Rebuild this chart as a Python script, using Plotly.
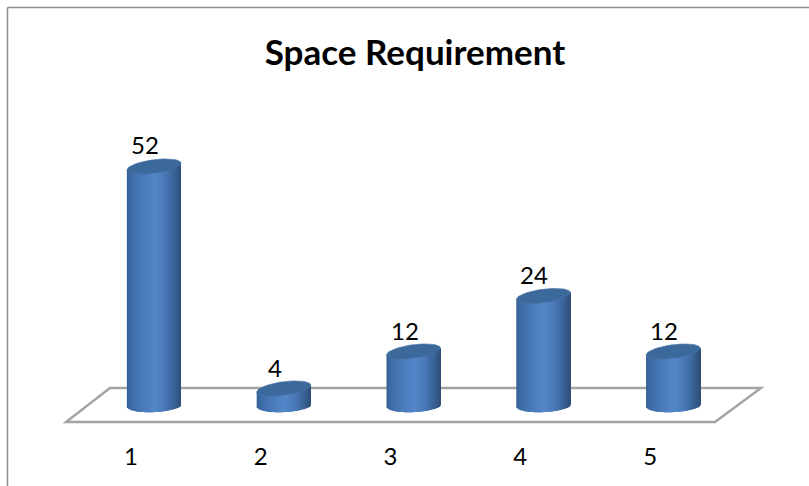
import math
import plotly.graph_objects as go

title = "Space Requirement"
categories = [1, 2, 3, 4, 5]
values = [52, 4, 12, 24, 12]
tick_labels = ["1", "2", "3", "4", "5"]

W, H = 809, 486
PLOT_L, PLOT_R = 89, 738
Y0_PX = 407.0
K = 4.625          # px per value unit
Y_MIN, Y_MAX = -5, 60
PX_PER_CAT = (PLOT_R - PLOT_L) / 5
A = 27.0           # cylinder half width px
CAP_B, CAP_T = 6.8, 3.4
BOT_B, BOT_T, BOT_DY = 6.8, 1.4, -1.7
STOPS = [(0.0, (52, 94, 146)), (0.06, (60, 106, 164)), (0.3, (74, 124, 188)),
         (0.52, (83, 135, 201)), (0.7, (74, 122, 184)), (0.88, (58, 98, 150)), (1.0, (46, 78, 120))]
N = 54


def shade(t):
    for (a, ca), (b, cb) in zip(STOPS, STOPS[1:]):
        if t <= b:
            f = (t - a) / (b - a)
            return "rgb(%d,%d,%d)" % tuple(round(p + (q - p) * f) for p, q in zip(ca, cb))
    return "rgb(46,78,120)"


fig = go.Figure()
slice_px = 2 * A / N
for i in range(N):
    dx = -A + (i + 0.5) * slice_px
    s = dx / A
    low_px = BOT_DY - BOT_T * s + BOT_B * math.sqrt(max(0, 1 - s * s))
    base = -low_px / K
    top_extra = CAP_T * s / K
    fig.add_trace(go.Bar(
        x=categories,
        y=[v + top_extra - base for v in values],
        base=[base] * len(values),
        offset=(dx - slice_px / 2) / PX_PER_CAT,
        width=min(slice_px + 1.5, A - dx + slice_px / 2) / PX_PER_CAT,
        marker=dict(color=shade((i + 0.5) / N), line=dict(width=0)),
        hoverinfo="skip",
        showlegend=False,
    ))

for c, v in zip(categories, values):
    xs, ys = [], []
    for d in range(0, 361, 6):
        t = math.radians(d)
        dx = A * math.cos(t)
        xs.append(c + dx / PX_PER_CAT)
        ys.append(v + (CAP_T * math.cos(t) + CAP_B * math.sin(t)) / K)
    fig.add_trace(go.Scatter(
        x=xs, y=ys, mode="lines", fill="toself",
        fillcolor="rgb(60,105,156)", line=dict(width=0.6, color="rgb(72,114,164)"),
        hoverinfo="skip", showlegend=False,
    ))

for c, v in zip(categories, values):
    fig.add_annotation(x=c, y=v, text=str(v), showarrow=False, xshift=-9, yshift=21.5,
                       font=dict(family="Lato", size=24, color="#000000"))

shapes = [
    dict(type="path", xref="paper", yref="paper", layer="below",
         path="M %f %f L %f %f L %f %f L %f %f Z" % (
             66 / W, 1 - 422 / H, 715 / W, 1 - 422 / H, 761 / W, 1 - 388 / H, 110 / W, 1 - 388 / H),
         line=dict(color="#a3a3a3", width=2.4), fillcolor="rgba(0,0,0,0)"),
    dict(type="line", xref="paper", yref="paper", layer="below",
         x0=7.5 / W, x1=1, y0=1 - 7.5 / H, y1=1 - 7.5 / H, line=dict(color="#8c8c8c", width=1.5)),
    dict(type="line", xref="paper", yref="paper", layer="below",
         x0=7.5 / W, x1=7.5 / W, y0=1 - 7.5 / H, y1=0, line=dict(color="#8c8c8c", width=1.5)),
]

fig.update_layout(
    width=W, height=H,
    margin=dict(l=0, r=0, t=0, b=0),
    paper_bgcolor="white", plot_bgcolor="rgba(0,0,0,0)",
    barmode="overlay",
    showlegend=False,
    shapes=shapes,
    title=dict(text="<b>%s</b>" % title, x=415 / W, xanchor="center", xref="paper",
               y=1 - 53 / H, yanchor="middle", yref="paper",
               font=dict(family="Lato", size=35, color="#000000")),
    xaxis=dict(domain=[PLOT_L / W, PLOT_R / W], range=[0.5, 5.5], tickmode="array",
               tickvals=categories, ticktext=tick_labels, showgrid=False, zeroline=False,
               showline=False, ticks="", ticklabelshift=-23, ticklabelstandoff=10,
               tickfont=dict(family="Lato", size=24, color="#000000"), fixedrange=True),
    yaxis=dict(domain=[1 - (Y0_PX - Y_MIN * K) / H, 1 - (Y0_PX - Y_MAX * K) / H],
               range=[Y_MIN, Y_MAX], visible=False, fixedrange=True),
)

fig.write_html("out.html", config=dict(displayModeBar=False),
               post_script="document.body.style.margin='0';document.documentElement.style.overflow='hidden';")
